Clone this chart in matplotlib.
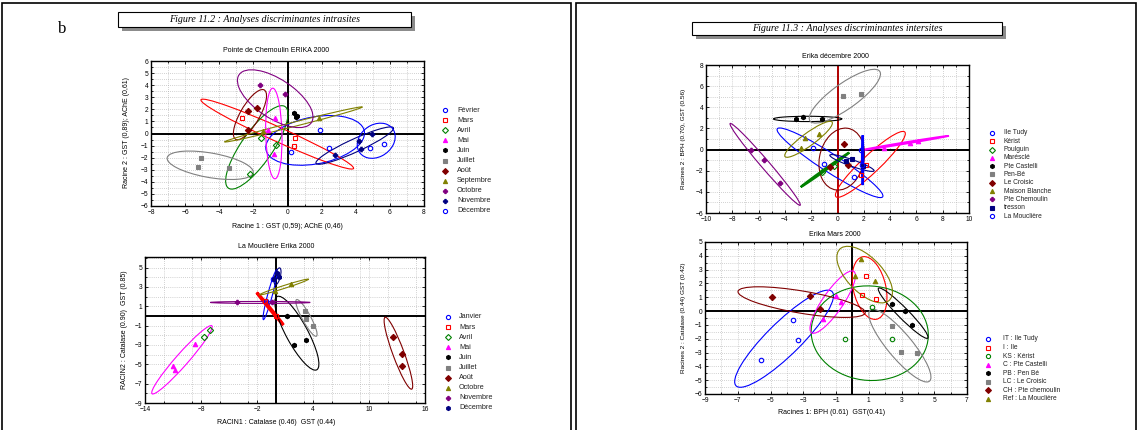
import numpy as np
import matplotlib
matplotlib.use("Agg")
import matplotlib.pyplot as plt
from matplotlib.patches import Ellipse, Rectangle
from matplotlib.lines import Line2D
from matplotlib.ticker import MultipleLocator

plt.rcParams['font.family'] = ['Liberation Sans', 'DejaVu Sans']

W, H = 1138, 430

# ---------------- Panel 1 : Pointe de Chemoulin ERIKA 2000 ----------------
P1_LABELS = ["Février", "Mars", "Avril", "Mai", "Juin", "Juillet", "Août",
             "Septembre", "Octobre", "Novembre", "Décembre"]
P1_X = [[1.9, 2.45, 0.2], [-2.67, 0.45, 0.39], [-1.56, -0.66, -2.19], [-1.17, -0.72, -0.78],
        [0.41, 0.5, 0.55], [-5.05, -5.25, -3.4], [-2.34, -1.8, -2.34], [1.87, -1.44],
        [-1.64, -0.12], [4.18, 4.31, 4.96, 2.77], [4.84, 5.66]]
P1_Y = [[0.32, -1.2, -1.5], [1.26, -0.34, -1.06], [-0.4, -0.92, -3.38], [0.26, 1.28, -1.7],
        [1.7, 1.37, 1.45], [-2.03, -2.77, -2.86], [1.83, 2.1, 0.32], [1.3, 0.2],
        [3.99, 3.24], [-0.62, -1.26, -0.07, -1.78], [-1.2, -0.9]]
P1_ELL_CX = [1.62, -0.6, -1.8, -0.8, np.nan, -4.53, -2.2, 0.35, -0.72, 3.94, 5.2]
P1_ELL_CY = [-0.57, -0.05, -1.15, 0.0, np.nan, -2.63, 1.56, 0.75, 2.88, -1.0, -0.6]
P1_ELL_LEN = [6.0, 10.6, 7.55, 7.5, np.nan, 5.2, 4.43, 8.58, 5.89, 5.41, 3.0]
P1_ELL_WID = [3.8, 1.1, 2.0, 0.95, np.nan, 2.0, 1.2, 0.35, 2.8, 1.0, 2.1]
P1_ELL_ANG = [20, -32.6, 65.2, 91, np.nan, -15, 69, 19.7, -48.5, 33.4, 70]
P1_COLORS = ["#0000ff", "#ff0000", "#008000", "#ff00ff", "#000000", "#808080", "#800000",
             "#808000", "#800080", "#000080", "#0000ff"]
P1_MARKERS = ["o", "s", "D", "^", "h", "s", "D", "^", "P", "P", "o"]
P1_OPEN = [True, True, True, False, False, False, False, False, False, False, True]

# ---------------- Panel 2 : La Mouclière Erika 2000 ----------------
P2_LABELS = ["Janvier", "Mars", "Avril", "Mai", "Juin", "Juillet", "Août",
             "Octobre", "Novembre", "Décembre"]
P2_X = [[-0.3, -1.0], [-1.12, 0.02], [-7.0, -7.65], [-8.61, -11.0, -10.75],
        [1.2, 1.98, 3.23], [3.16, 3.23, 3.98], [12.54, 13.5, 13.5],
        [1.66, -0.1], [-4.15, -0.41], [0.13, 0.38, -0.23]]
P2_Y = [[3.8, 1.5], [1.5, 0.0], [-1.5, -2.22], [-2.91, -5.22, -5.63],
        [0.0, -2.98, -2.46], [0.53, -0.3, -1.02], [-2.19, -3.9, -5.2],
        [3.28, 2.6], [1.42, 1.42], [4.4, 4.07, 3.8]]
P2_ELL_CX = [-0.6, -0.6, np.nan, -10.04, 2.27, 3.3, 13.15, 0.9, -1.65, 0.2]
P2_ELL_CY = [2.2, 0.75, np.nan, -4.53, -1.78, -0.2, -3.85, 3.0, 1.4, 4.1]
P2_ELL_LEN = [5.35, 4.39, np.nan, 9.51, 8.69, 4.34, 7.96, 5.49, 10.7, 1.8]
P2_ELL_WID = [0.5, 0.15, np.nan, 1.3, 2.3, 0.9, 1.2, 0.3, 0.2, 0.6]
P2_ELL_ANG = [74.5, -49.5, np.nan, 47.6, -60.5, -60.5, -69, 17.1, 0, 75]
P2_COLORS = ["#0000ff", "#ff0000", "#008000", "#ff00ff", "#000000", "#808080", "#800000",
             "#808000", "#800080", "#000080"]
P2_MARKERS = ["o", "s", "D", "^", "h", "s", "D", "^", "P", "h"]
P2_OPEN = [True, True, True, False, False, False, False, False, False, False]
P2_LW = [0.8, 2.0, 0.8, 0.8, 0.8, 0.8, 0.8, 0.8, 0.8, 0.8]

# ---------------- Panel 3 : Erika décembre 2000 ----------------
P3_LABELS = ["Ile Tudy", "Kérist", "Poulguin", "Marésclé", "Pte Castelli", "Pen-Bé",
             "Le Croisic", "Maison Blanche", "Pte Chemoulin", "tresson", "La Mouclière"]
P3_X = [[-1.83, -1.02, 1.28], [2.14, 1.78], [-1.2, -0.3], [3.55, 5.5, 6.13],
        [-3.15, -2.62, -1.15], [0.39, 1.76], [0.49, -0.57, 0.82],
        [-2.47, -1.43, -2.79], [-6.59, -5.58, -4.41], [0.62, 1.07, 1.91], [1.76, 1.9]]
P3_Y = [[0.19, -1.32, -2.59], [-1.48, -2.43], [-2.11, -1.6], [0.19, 0.64, 0.83],
        [2.85, 3.07, 2.85], [5.06, 5.25], [0.48, -1.64, -1.42],
        [1.14, 1.49, 0.19], [0.0, -1.0, -3.16], [-1.1, -0.85, -1.58], [-0.06, -1.5]]
P3_ELL_CX = [-0.57, 2.5, -0.95, 5.15, -2.27, 0.56, 0.32, -2.2, -5.5, 1.1, 1.91]
P3_ELL_CY = [-1.25, -1.4, -1.91, 0.62, 2.9, 5.05, -0.9, 0.97, -1.4, -1.27, -1.0]
P3_ELL_LEN = [10.28, 8.06, 4.92, 6.79, 5.2, 7.1, 5.9, 4.85, 9.39, 3.68, 4.7]
P3_ELL_WID = [1.6, 1.5, 0.15, 0.15, 0.5, 2.2, 3.4, 1.1, 0.7, 0.6, 0.1]
P3_ELL_ANG = [-39, 49.9, 41.5, 11.6, 0, 42.8, 82, 43, -55.5, -24, 90]
P3_COLORS = ["#0000ff", "#ff0000", "#008000", "#ff00ff", "#000000", "#808080", "#800000",
             "#808000", "#800080", "#000080", "#0000ff"]
P3_MARKERS = ["o", "s", "D", "^", "h", "s", "D", "^", "P", "s", "o"]
P3_OPEN = [True, True, True, False, False, False, False, False, False, False, True]
P3_LW = [0.8, 0.8, 1.5, 1.2, 0.8, 0.8, 0.8, 0.8, 0.8, 0.8, 1.5]

# ---------------- Panel 4 : Erika Mars 2000 ----------------
P4_LABELS = ["IT : Ile Tudy", "I : Ile", "KS : Kérist", "C : Pte Castelli", "PB : Pen Bé",
             "LC : Le Croisic", "CH : Pte chemoulin", "Ref : La Mouclière"]
P4_X = [[-3.65, -3.31, -5.58], [0.82, 0.6, 1.43], [1.2, -0.42, 2.43], [-0.97, -0.71, -1.78],
        [2.43, 3.2, 3.66], [2.43, 2.99, 3.95], [-4.93, -2.56, -1.95], [0.55, 0.15, 1.37]]
P4_Y = [[-0.62, -2.07, -3.52], [2.56, 1.19, 0.9], [0.3, -2.0, -2.02], [1.07, 0.66, -0.55],
        [0.51, 0.0, -0.98], [-1.1, -2.96, -3.03], [1.0, 1.07, 0.17], [3.79, 2.52, 2.2]]
P4_ELL_CX = [-4.17, 1.05, 1.06, -1.2, 3.1, 2.9, -3.1, 0.75]
P4_ELL_CY = [-2.0, 1.67, -1.6, 0.65, -0.15, -2.5, 0.65, 2.64]
P4_ELL_LEN = [9.0, 4.6, 7.2, 5.14, 4.7, 6.29, 7.92, 4.8]
P4_ELL_WID = [2.2, 2.0, 6.8, 1.3, 0.7, 1.6, 1.6, 2.3]
P4_ELL_ANG = [49.9, 100, -20, 60.4, -50.4, -55.5, -11.4, -53.6]
P4_COLORS = ["#0000ff", "#ff0000", "#008000", "#ff00ff", "#000000", "#808080", "#800000",
             "#808000"]
P4_MARKERS = ["o", "s", "o", "^", "h", "s", "D", "^"]
P4_OPEN = [True, True, True, False, False, False, False, False]


def fx(px):
    return px / W


def fy(py):
    return 1 - py / H


fig = plt.figure(figsize=(W / 100, H / 100), dpi=100)


def make_axes(l, t, r, b):
    return fig.add_axes([fx(l), fy(b), fx(r) - fx(l), fy(t) - fy(b)])


def style_axes(ax, xlim, ylim, xt, yt, xminor, yminor, vcolor="black"):
    ax.set_xlim(*xlim)
    ax.set_ylim(*ylim)
    ax.set_xticks(xt)
    ax.set_yticks(yt)
    ax.xaxis.set_minor_locator(MultipleLocator(xminor))
    ax.yaxis.set_minor_locator(MultipleLocator(yminor))
    ax.tick_params(which="both", direction="in", top=True, right=True, labelsize=4.8,
                   length=2, width=0.6, pad=2, colors="black")
    ax.tick_params(which="minor", length=1.2)
    ax.grid(True, which="both", linestyle=(0, (1, 2)), color="#a8a8a8", linewidth=0.5)
    ax.set_axisbelow(True)
    for s in ax.spines.values():
        s.set_linewidth(1.0)
    ax.axhline(0, color="black", lw=1.4, zorder=2)
    ax.axvline(0, color=vcolor, lw=1.4, zorder=2)


def draw_groups(ax, xs, ys, cx, cy, ln, wd, an, colors, markers, opens, lws=None):
    for i in range(len(xs)):
        c = colors[i]
        lw = 0.8 if lws is None else lws[i]
        if not np.isnan(cx[i]):
            ax.add_patch(Ellipse((cx[i], cy[i]), ln[i], wd[i], angle=an[i], fill=False,
                                 edgecolor=c, lw=lw, zorder=3))
        ax.plot(xs[i], ys[i], linestyle="none", marker=markers[i], ms=3.2,
                mfc="none" if opens[i] else c, mec=c, mew=0.8, zorder=4)


def legend(labels, colors, markers, opens, xm, xt, y0, dy, fs=5.2):
    for i, lab in enumerate(labels):
        y = y0 + i * dy
        fig.add_artist(Line2D([fx(xm)], [fy(y)], marker=markers[i], ms=3.0, linestyle="none",
                              mfc="none" if opens[i] else colors[i], mec=colors[i], mew=0.8,
                              transform=fig.transFigure))
        fig.text(fx(xt), fy(y), lab, fontsize=fs, va="center", ha="left", color="#222222")


# ---- Page frames ----
fig.add_artist(Rectangle((fx(2), fy(432)), fx(571) - fx(2), fy(3) - fy(432), fill=False,
                         lw=1.2, edgecolor="black", transform=fig.transFigure))
fig.add_artist(Rectangle((fx(576), fy(432)), fx(1136) - fx(576), fy(3) - fy(432), fill=False,
                         lw=1.2, edgecolor="black", transform=fig.transFigure))


# ---- Header boxes ----
def header(l, t, r, b, text):
    fig.add_artist(Rectangle((fx(l + 4), fy(b + 4)), fx(r) - fx(l), fy(t) - fy(b),
                             facecolor="#8c8c8c", edgecolor="none", transform=fig.transFigure))
    fig.add_artist(Rectangle((fx(l), fy(b)), fx(r) - fx(l), fy(t) - fy(b),
                             facecolor="white", edgecolor="black", lw=0.8,
                             transform=fig.transFigure))
    fig.text(fx((l + r) / 2), fy((t + b) / 2), text, fontsize=7.2, style="italic",
             family=["Liberation Serif", "DejaVu Serif"], ha="center", va="center")


header(118, 12, 411, 27, "Figure 11.2 : Analyses discriminantes intrasites")
header(692, 22, 1002, 35, "Figure 11.3 : Analyses discriminantes intersites")
fig.text(fx(62), fy(29), "b", fontsize=12, family=["Liberation Serif", "DejaVu Serif"],
         ha="center", va="center")

# ---- Panel 1 ----
ax1 = make_axes(151, 61, 424, 206)
style_axes(ax1, (-8, 8), (-6, 6), np.arange(-8, 9, 2), np.arange(-6, 7, 1), 1, 0.5)
draw_groups(ax1, P1_X, P1_Y, P1_ELL_CX, P1_ELL_CY, P1_ELL_LEN, P1_ELL_WID, P1_ELL_ANG,
            P1_COLORS, P1_MARKERS, P1_OPEN)
fig.text(fx(276), fy(50), "Pointe de Chemoulin ERIKA 2000", fontsize=5, ha="center", va="center")
fig.text(fx(287), fy(227), "Racine 1 : GST (0,59); AChE (0,46)", fontsize=5, ha="center", va="center")
fig.text(fx(127), fy(133), "Racine 2 : GST (0,89); AChE (0,61)", fontsize=5, ha="center",
         va="center", rotation=90)
legend(P1_LABELS, P1_COLORS, P1_MARKERS, P1_OPEN, 445, 457, 110, 10.1)

# ---- Panel 2 ----
ax2 = make_axes(145, 257, 425, 403)
style_axes(ax2, (-14, 16), (-9, 6.1), np.arange(-14, 17, 6), np.arange(-9, 6, 2), 3, 1)
draw_groups(ax2, P2_X, P2_Y, P2_ELL_CX, P2_ELL_CY, P2_ELL_LEN, P2_ELL_WID, P2_ELL_ANG,
            P2_COLORS, P2_MARKERS, P2_OPEN, P2_LW)
fig.text(fx(276), fy(247), "La Mouclière Erika 2000", fontsize=5, ha="center", va="center")
fig.text(fx(276), fy(422), "RACIN1 : Catalase (0.46)  GST (0.44)", fontsize=5, ha="center", va="center")
fig.text(fx(125), fy(330), "RACIN2 : Catalase (0.90)  GST (0.85)", fontsize=5, ha="center",
         va="center", rotation=90)
legend(P2_LABELS, P2_COLORS, P2_MARKERS, P2_OPEN, 448, 459, 317, 10.1)

# ---- Panel 3 ----
ax3 = make_axes(706, 65, 969, 213)
style_axes(ax3, (-10, 10), (-6, 8), np.arange(-10, 11, 2), np.arange(-6, 9, 2), 1, 1,
           vcolor="#b00000")
draw_groups(ax3, P3_X, P3_Y, P3_ELL_CX, P3_ELL_CY, P3_ELL_LEN, P3_ELL_WID, P3_ELL_ANG,
            P3_COLORS, P3_MARKERS, P3_OPEN, P3_LW)
fig.text(fx(835), fy(56), "Erika décembre 2000", fontsize=5, ha="center", va="center")
fig.text(fx(683), fy(139), "Racines 2 : BPH (0.70), GST (0.56)", fontsize=4.6, ha="center",
         va="center", rotation=90)
legend(P3_LABELS, P3_COLORS, P3_MARKERS, P3_OPEN, 992, 1004, 133, 8.3, fs=4.8)

# ---- Panel 4 ----
ax4 = make_axes(705, 242, 967, 394)
style_axes(ax4, (-9, 7), (-6, 5), np.arange(-9, 8, 2), np.arange(-6, 6, 1), 1, 0.5)
draw_groups(ax4, P4_X, P4_Y, P4_ELL_CX, P4_ELL_CY, P4_ELL_LEN, P4_ELL_WID, P4_ELL_ANG,
            P4_COLORS, P4_MARKERS, P4_OPEN)
fig.text(fx(835), fy(235), "Erika Mars 2000", fontsize=5, ha="center", va="center")
fig.text(fx(832), fy(412), "Racines 1: BPH (0.61)  GST(0.41)", fontsize=5, ha="center", va="center")
fig.text(fx(683), fy(318), "Racines 2 : Catalase (0.44) GST (0.42)", fontsize=4.6, ha="center",
         va="center", rotation=90)
legend(P4_LABELS, P4_COLORS, P4_MARKERS, P4_OPEN, 988, 1003, 339, 8.57, fs=4.8)

fig.savefig("out.png", dpi=100)
